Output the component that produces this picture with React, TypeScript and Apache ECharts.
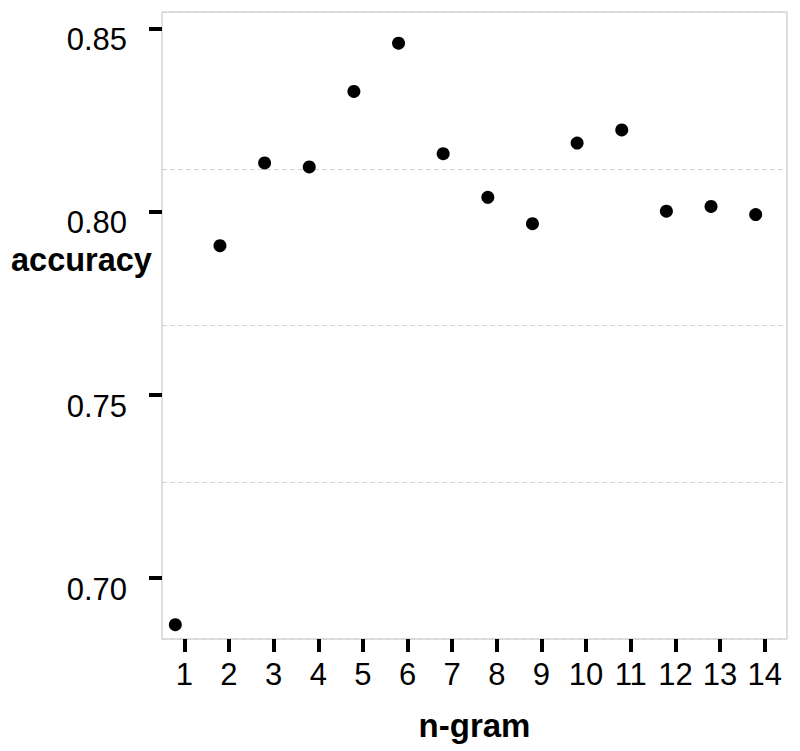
import React, { useEffect, useRef } from "react";
import * as echarts from "echarts";

const nGrams: string[] = ["1", "2", "3", "4", "5", "6", "7", "8", "9", "10", "11", "12", "13", "14"];
const accuracy: number[] = [
  0.6873, 0.7908, 0.8134, 0.8123, 0.8329, 0.8461, 0.8159,
  0.804, 0.7968, 0.8188, 0.8224, 0.8002, 0.8015, 0.7993,
];
const yTicks: number[] = [0.7, 0.75, 0.8, 0.85];
const yMin = 0.6834;
const yMax = 0.8546;

const FONT = "'Liberation Sans', Arial, Helvetica, sans-serif";

export default function App() {
  const ref = useRef<HTMLDivElement>(null);
  useEffect(() => {
    if (!ref.current) return;
    const chart = echarts.init(ref.current, null, { renderer: "svg" });
    chart.setOption({
      animation: false,
      backgroundColor: "#ffffff",
      textStyle: { fontFamily: FONT },
      grid: {
        left: 162,
        right: 13,
        top: 12,
        bottom: 112,
        show: true,
        borderColor: "#bdbdbd",
        borderWidth: 1,
        backgroundColor: "transparent",
      },
      xAxis: {
        type: "category",
        data: nGrams,
        boundaryGap: true,
        name: "n-gram",
        nameLocation: "middle",
        nameGap: 70,
        nameTextStyle: { fontFamily: FONT, fontSize: 33, fontWeight: "bold", color: "#000" },
        axisLine: { show: false },
        axisTick: { show: true, alignWithLabel: true, length: 13, lineStyle: { color: "#000", width: 4 } },
        axisLabel: { fontFamily: FONT, fontSize: 31, color: "#000", margin: 20, interval: 0 },
        splitLine: { show: false },
      },
      yAxis: [
        {
          type: "value",
          min: yMin,
          max: yMax,
          axisLine: { show: false },
          axisTick: { show: true, length: 13, customValues: yTicks, lineStyle: { color: "#000", width: 4 } },
          axisLabel: {
            fontFamily: FONT,
            fontSize: 31,
            color: "#000",
            margin: 35,
            verticalAlign: "top",
            lineHeight: 22,
            customValues: yTicks,
            formatter: (v: number) => v.toFixed(2),
          },
          splitLine: { show: false },
        },
        {
          type: "value",
          min: 0,
          max: 4,
          interval: 1,
          position: "right",
          axisLine: { show: false },
          axisTick: { show: false },
          axisLabel: { show: false },
          splitLine: { show: true, lineStyle: { color: "#d3d3d3", width: 1, type: [5, 3] } },
        },
      ],
      graphic: [
        {
          type: "text",
          left: 11,
          top: 243,
          style: {
            text: "accuracy",
            font: `bold 32.5px ${FONT}`,
            fill: "#000",
          },
        },
      ],
      series: [
        {
          type: "scatter",
          yAxisIndex: 0,
          data: accuracy,
          symbol: "circle",
          symbolSize: 13,
          symbolOffset: [-9, 0],
          itemStyle: { color: "#000", opacity: 1 },
        },
      ],
    });
    return () => chart.dispose();
  }, []);
  return (
    <div
      ref={ref}
      style={{ position: "fixed", left: 0, top: 0, width: 800, height: 751, background: "#fff" }}
    />
  );
}
